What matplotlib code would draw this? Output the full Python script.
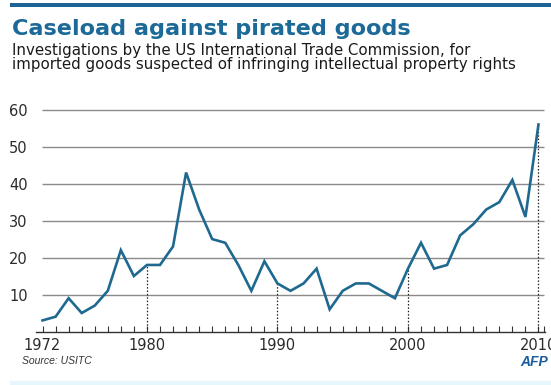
import numpy as np
import matplotlib
matplotlib.use('Agg')
import matplotlib.pyplot as plt

# ITC intellectual property investigations per year
years = list(range(1972, 2011))
cases = [3, 4, 9, 5, 7, 11, 22, 15, 18, 18,
         23, 43, 33, 25, 24, 18, 11, 19, 13, 11,
         13, 17, 6, 11, 13, 13, 11, 9, 17, 24,
         17, 18, 26, 29, 33, 35, 41, 31, 56]
marked_years = [1980, 1990, 2000, 2010]
yticks = [10, 20, 30, 40, 50, 60]
xlabels = [1972, 1980, 1990, 2000, 2010]

plt.rcParams['font.family'] = ['DejaVu Sans']

blue = '#1c6a97'
line_col = '#1f6990'
text_col = '#2b2b2b'

fig = plt.figure(figsize=(5.51, 3.85), dpi=100)
fig.patch.set_facecolor('white')

# header / footer bars
fig.add_artist(plt.Rectangle((10/551, 1-7/385), 1, 4/385, transform=fig.transFigure,
                             color='#1d6396', lw=0))
fig.add_artist(plt.Rectangle((10/551, 0), 1, 4/385, transform=fig.transFigure,
                             color='#e6f7fb', lw=0))

fig.text(12/551, 1-35/385, 'Caseload against pirated goods', fontsize=16.1,
         fontweight='bold', color=blue, va='baseline')
fig.text(12/551, 1-55/385, 'Investigations by the US International Trade Commission, for',
         fontsize=10.8, color='#1a1a1a', va='baseline')
fig.text(12/551, 1-69.5/385, 'imported goods suspected of infringing intellectual property rights',
         fontsize=10.8, color='#1a1a1a', va='baseline')

ax = fig.add_axes([36/551, 1-331.5/385, (545-36)/551, (331.5-106)/385])
ax.set_xlim(1971.5, 2010.5)
ax.set_ylim(0, 61)

ax.hlines(yticks, 1971.95, 2010.4, color='#8a8a8a', lw=1, zorder=1)

vals = dict(zip(years, cases))
for y in marked_years:
    ax.vlines(y, 0, vals[y], color='#222222', lw=0.9, linestyles=(0, (1.2, 1.5)), zorder=2)

ax.plot(years, cases, color=line_col, lw=1.9, solid_joinstyle='miter', zorder=3)

for s in ['top', 'right', 'left']:
    ax.spines[s].set_visible(False)
ax.spines['bottom'].set_color('#333333')
ax.spines['bottom'].set_linewidth(1)

ax.set_xticks(years + [2010.45], minor=True)
ax.set_xticks(xlabels)
ax.set_xticklabels([str(x) for x in xlabels])
ax.tick_params(axis='x', which='both', direction='in', length=4, width=0.8,
               color='#333333', labelsize=10.5, labelcolor=text_col, pad=5)

ax.set_yticks(yticks)
ax.set_yticklabels([str(v) for v in yticks])
ax.tick_params(axis='y', length=0, labelsize=10.5, labelcolor=text_col, pad=6)

fig.text(22/551, 1-361/385, 'Source: USITC', fontsize=7.5, style='italic',
         family='Liberation Sans', color='#333333', va='center')
fig.text(548/551, 1-362/385, 'AFP', fontsize=10, style='italic', fontweight='bold',
         family='Liberation Sans', color='#1b5c9e', ha='right', va='center')

fig.savefig('out.png', dpi=100)
